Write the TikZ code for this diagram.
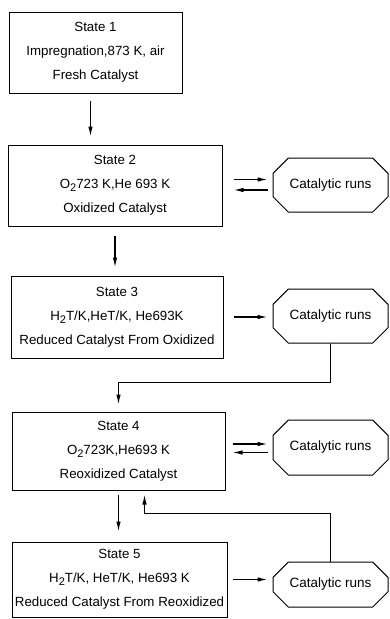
\documentclass[tikz,border=0pt]{standalone}
\usepackage{fontspec}
\setmainfont{Liberation Sans}
\usetikzlibrary{arrows.meta,shapes.misc}

\newcommand{\subi}[1]{\raisebox{-0.45ex}{\fontsize{11}{11}\selectfont #1}}

\begin{document}
\begin{tikzpicture}[x=1pt, y=-1pt,
  estado/.style={draw, line width=1pt, rectangle, inner sep=0pt, align=center,
    font=\fontsize{13.3}{24}\selectfont},
  corrida/.style={draw, line width=1pt, chamfered rectangle,
    chamfered rectangle xsep=9pt, chamfered rectangle ysep=9pt,
    inner sep=0pt, minimum width=115pt, font=\fontsize{13.5}{15}\selectfont},
  flecha/.style={line width=1.2pt, -{Latex[length=10pt,width=4.5pt]}},
]

\useasboundingbox (0,0) rectangle (390,619);

% Estados
\node[estado, minimum width=173pt, minimum height=81pt] (s1) at (95.5,52.5)
  {State 1\\Impregnation,873 K, air\\Fresh Catalyst};
\node[estado, minimum width=214pt, minimum height=81pt] (s2) at (115,185.5)
  {State 2\\O\subi{2}723 K,He 693 K\\Oxidized Catalyst};
\node[estado, minimum width=212pt, minimum height=82pt] (s3) at (117,317)
  {State 3\\H\subi{2}T/K,HeT/K, He693K\\Reduced Catalyst From Oxidized};
\node[estado, minimum width=213pt, minimum height=78pt] (s4) at (118.5,451)
  {State 4\\O\subi{2}723K,He693 K\\Reoxidized Catalyst};
\node[estado, minimum width=215pt, minimum height=75pt] (s5) at (119.5,579.5)
  {State 5\\H\subi{2}T/K, HeT/K, He693 K\\Reduced Catalyst From Reoxidized};

% Corridas
\node[corrida, minimum height=54pt] (r2) at (330.5,185) {Catalytic runs};
\node[corrida, minimum height=54pt] (r3) at (330.5,316) {Catalytic runs};
\node[corrida, minimum height=55pt] (r4) at (330.5,447.5) {Catalytic runs};
\node[corrida, minimum height=45pt] (r5) at (330.5,584.5) {Catalytic runs};

% Bajada
\draw[flecha, shorten <=7pt, shorten >=8pt] ([xshift=-5pt]s1.south) -- ([xshift=-5pt]s1.south |- s2.north);
\draw[flecha, shorten <=9pt, shorten >=8pt] (s2.south) -- (s2.south |- s3.north);
\draw[flecha, shorten <=4pt, shorten >=10pt] (s4.south) -- (s4.south |- s5.north);

% Ida y vuelta
\draw[flecha, shorten <=11pt, shorten >=5pt] ([yshift=6pt]s2.east) -- ([yshift=6pt]s2.east -| r2.west);
\draw[flecha, shorten <=5pt, shorten >=11pt] ([yshift=-5pt]r2.west) -- ([yshift=-5pt]r2.west -| s2.east);
\draw[flecha, shorten <=10pt, shorten >=5pt] (s3.east) -- (s3.east -| r3.west);
\draw[flecha, shorten <=7pt, shorten >=5pt] ([yshift=7pt]s4.east) -- ([yshift=7pt]s4.east -| r4.west);
\draw[flecha, shorten <=5pt, shorten >=7pt] ([yshift=-5pt]r4.west) -- ([yshift=-5pt]r4.west -| s4.east);
\draw[flecha, shorten <=5pt, shorten >=5pt] (s5.east) -- (s5.east -| r5.west);

% Retorno
\draw[flecha, shorten >=7pt] (r3.south) -- ++(0,39) -| (s4.north);
\draw[flecha, shorten >=4pt] (r5.north) -- ++(0,-48) -| ([xshift=26pt]s4.south);

\end{tikzpicture}
\end{document}
